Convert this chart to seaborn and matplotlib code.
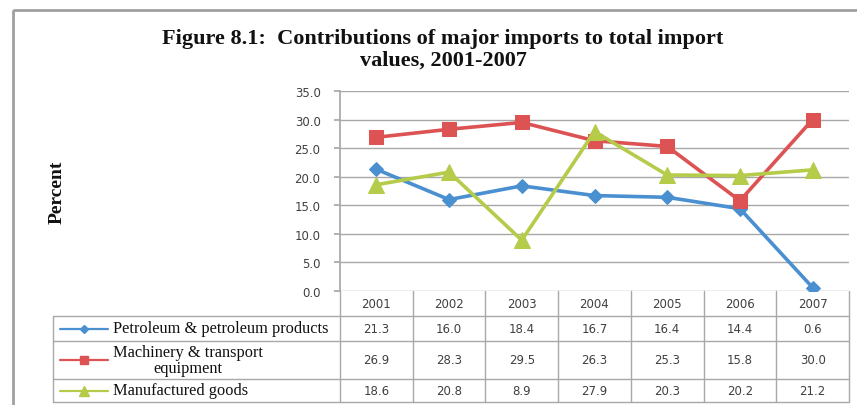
import numpy as np
import pandas as pd
import matplotlib
matplotlib.use('Agg')
import matplotlib.pyplot as plt
import seaborn as sns
from matplotlib.lines import Line2D
from matplotlib.patches import Rectangle

# dados
anos = ['2001', '2002', '2003', '2004', '2005', '2006', '2007']
series_nomes = ['Petroleum & petroleum products',
                'Machinery & transport\nequipment',
                'Manufactured goods']
petroleo = [21.3, 16.0, 18.4, 16.7, 16.4, 14.4, 0.6]
maquinas = [26.9, 28.3, 29.5, 26.3, 25.3, 15.8, 30.0]
manufaturados = [18.6, 20.8, 8.9, 27.9, 20.3, 20.2, 21.2]
y_ticks = [0, 5, 10, 15, 20, 25, 30, 35]

# cores / estilo
azul = '#4A90D0'
vermelho = '#DD5252'
verde = '#B5CB4A'
cinza_grade = '#A8A8A8'
cinza_texto = '#404040'
serif = ['Liberation Serif', 'DejaVu Serif']
sans = ['DejaVu Sans']

sns.set_theme(style='white')
plt.rcParams['font.family'] = sans

df = pd.DataFrame({
    'ano': anos * 3,
    'valor': petroleo + maquinas + manufaturados,
    'serie': [s for s in series_nomes for _ in anos],
})

estilos = [
    (series_nomes[0], azul, 'D', 7.5),
    (series_nomes[1], vermelho, 's', 10),
    (series_nomes[2], verde, '^', 11),
]

W, H = 857, 406
fig = plt.figure(figsize=(W / 100, H / 100), dpi=100)

def fx(px):
    return px / W

def fy(py):
    return 1 - py / H

x0, x1, ytop, ybot = 340, 849, 92, 292
ax = fig.add_axes([fx(x0), fy(ybot), fx(x1) - fx(x0), fy(ytop) - fy(ybot)])

for nome, cor, marc, tam in estilos:
    sns.lineplot(data=df[df['serie'] == nome], x='ano', y='valor', color=cor,
                 marker=marc, markersize=tam, markeredgecolor=cor, linewidth=2.6,
                 sort=False, legend=False, ax=ax)

ax.set_xlim(-0.5, len(anos) - 0.5)
ax.set_ylim(0, 35)
ax.set_yticks(y_ticks)
ax.set_yticklabels([f'{v:.1f}' for v in y_ticks], fontsize=8.5, color=cinza_texto)
ax.set_xticks([])
ax.set_xlabel('')
ax.set_ylabel('')
ax.yaxis.grid(True, color=cinza_grade, linewidth=1)
ax.set_axisbelow(True)
for lado in ['top', 'right', 'bottom']:
    ax.spines[lado].set_visible(False)
ax.spines['left'].set_color(cinza_grade)
ax.tick_params(axis='y', length=4, color=cinza_grade, pad=10, left=True)

# tabela em coordenadas de pixel
tab = fig.add_axes([0, 0, 1, 1], facecolor='none')
tab.set_xlim(0, W)
tab.set_ylim(H, 0)
tab.axis('off')

col_w = (x1 - x0) / len(anos)
linhas_y = [292, 317, 342, 380, 403]
tab_esq = 53

def linha(xs, ys, **kw):
    tab.add_line(Line2D(xs, ys, color=cinza_grade, linewidth=1, **kw))

for k in range(len(anos) + 1):
    linha([x0 + k * col_w] * 2, [linhas_y[0], linhas_y[-1]])
for yy in linhas_y[1:]:
    linha([tab_esq, x1], [yy, yy])
linha([tab_esq, tab_esq], [linhas_y[1], linhas_y[-1]])

for i, ano in enumerate(anos):
    tab.text(x0 + (i + 0.5) * col_w, (linhas_y[0] + linhas_y[1]) / 2, ano,
             ha='center', va='center', fontsize=8.5, color=cinza_texto)

valores = [petroleo, maquinas, manufaturados]
for r, ((nome, cor, marc, tam), vals) in enumerate(zip(estilos, valores)):
    yc = (linhas_y[r + 1] + linhas_y[r + 2]) / 2
    tab.add_line(Line2D([60, 108], [yc, yc], color=cor, linewidth=1.6))
    tab.add_line(Line2D([84], [yc], color=cor, marker=marc, markersize=tam * 0.6,
                        markeredgecolor=cor))
    tab.text(113, yc, nome, ha='left', va='center', fontsize=11.8, family=serif,
             color='#111111', multialignment='center', linespacing=1.0)
    for i, v in enumerate(vals):
        tab.text(x0 + (i + 0.5) * col_w, yc, f'{v:.1f}', ha='center', va='center',
                 fontsize=8.5, color=cinza_texto)

# moldura
tab.add_patch(Rectangle((13, 11), W + 20, H + 20, fill=False, edgecolor='#A0A0A0',
                        linewidth=2))

fig.text(fx(443), fy(29), 'Figure 8.1:  Contributions of major imports to total import\nvalues, 2001-2007',
         ha='center', va='top', fontsize=16, fontweight='bold', family=serif,
         color='#111111', linespacing=1.08)
fig.text(fx(57), fy(192), 'Percent', rotation=90, ha='center', va='center',
         fontsize=14, fontweight='bold', family=serif, color='#111111')

fig.savefig('out.png', dpi=100)
